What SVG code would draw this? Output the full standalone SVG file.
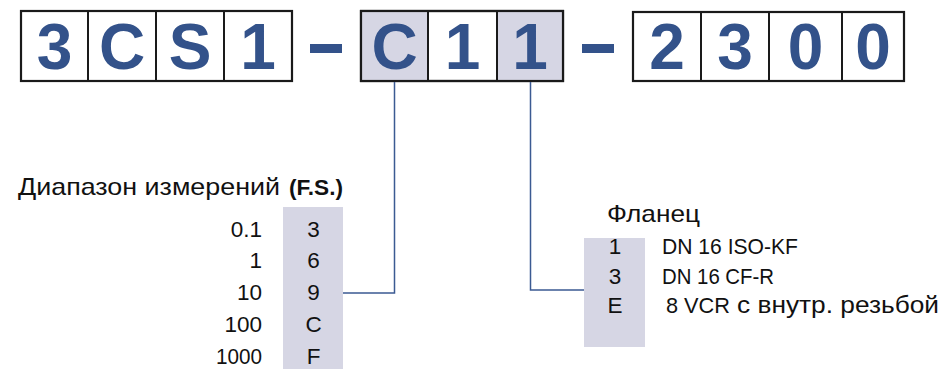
<svg xmlns="http://www.w3.org/2000/svg" width="948" height="369" viewBox="0 0 948 369">
  <style>
    .cell { fill: #ffffff; stroke: #1a1a1a; stroke-width: 2.2; }
    .sep { stroke: #1a1a1a; stroke-width: 2; }
    .sel { fill: #d6d6e4; }
    .code { font-family: "Liberation Sans", Arial, sans-serif; font-weight: bold; font-size: 64px; fill: #33528a; text-anchor: middle; }
    .dash { fill: #33528a; }
    .lbl { font-family: "Liberation Sans", Arial, sans-serif; font-size: 22.5px; fill: #111111; }
    .head { font-family: "Liberation Sans", Arial, sans-serif; font-size: 24px; fill: #111111; }
    .num { text-anchor: end; }
    .mid { text-anchor: middle; }
    .col { fill: #d6d6e4; }
    .wire { fill: none; stroke: #3b5a92; stroke-width: 1.5; }
  </style>

  <!-- model code: 3CS1 -->
  <g id="code-base">
    <rect class="cell" x="21" y="11" width="271" height="70"/>
    <line class="sep" x1="88" y1="11" x2="88" y2="81"/>
    <line class="sep" x1="156" y1="11" x2="156" y2="81"/>
    <line class="sep" x1="224" y1="11" x2="224" y2="81"/>
    <text class="code" x="54.5" y="69">3</text>
    <text class="code" x="122" y="69">C</text>
    <text class="code" x="190" y="69">S</text>
    <text class="code" x="258" y="69">1</text>
  </g>

  <rect class="dash" x="310" y="44" width="32" height="9"/>

  <!-- model code: C11 (range, flange) -->
  <g id="code-options">
    <rect class="cell" x="361" y="11" width="202" height="70"/>
    <rect class="sel" x="362" y="12" width="66" height="68"/>
    <rect class="sel" x="497" y="12" width="65" height="68"/>
    <line class="sep" x1="428" y1="11" x2="428" y2="81"/>
    <line class="sep" x1="497" y1="11" x2="497" y2="81"/>
    <rect x="361" y="11" width="202" height="70" fill="none" stroke="#1a1a1a" stroke-width="2.2"/>
    <text class="code" x="394.5" y="69">C</text>
    <text class="code" x="462.5" y="69">1</text>
    <text class="code" x="530" y="69">1</text>
  </g>

  <rect class="dash" x="582" y="44" width="32" height="9"/>

  <!-- model code: 2300 -->
  <g id="code-suffix">
    <rect class="cell" x="633" y="12" width="271" height="69"/>
    <line class="sep" x1="701" y1="12" x2="701" y2="81"/>
    <line class="sep" x1="769" y1="12" x2="769" y2="81"/>
    <line class="sep" x1="842" y1="12" x2="842" y2="81"/>
    <text class="code" x="667" y="69">2</text>
    <text class="code" x="735" y="69">3</text>
    <text class="code" x="805.5" y="69">0</text>
    <text class="code" x="873" y="69">0</text>
  </g>

  <!-- measurement range table -->
  <g id="range-table">
    <rect class="col" x="283" y="207" width="60" height="162"/>
    <text class="head" x="18" y="195" textLength="262" lengthAdjust="spacingAndGlyphs">Диапазон измерений</text>
    <text class="lbl" x="289" y="195" font-weight="bold" font-size="23" textLength="54" lengthAdjust="spacingAndGlyphs">(F.S.)</text>
    <text class="lbl num" x="262" y="236.5">0.1</text>
    <text class="lbl num" x="262" y="268">1</text>
    <text class="lbl num" x="262" y="300">10</text>
    <text class="lbl num" x="262" y="332">100</text>
    <text class="lbl num" x="262" y="364" textLength="46" lengthAdjust="spacingAndGlyphs">1000</text>
    <text class="lbl mid" x="313.5" y="236.5">3</text>
    <text class="lbl mid" x="313.5" y="268">6</text>
    <text class="lbl mid" x="313.5" y="300">9</text>
    <text class="lbl mid" x="313.5" y="332">C</text>
    <text class="lbl mid" x="313.5" y="364">F</text>
  </g>

  <!-- flange table -->
  <g id="flange-table">
    <rect class="col" x="584" y="238" width="61" height="109"/>
    <text class="head" x="607" y="222" textLength="93" lengthAdjust="spacingAndGlyphs">Фланец</text>
    <text class="lbl mid" x="615" y="254" font-size="23">1</text>
    <text class="lbl mid" x="615" y="283.5" font-size="23">3</text>
    <text class="lbl mid" x="615" y="313" font-size="23">E</text>
    <text class="lbl" x="662" y="254" font-size="23" textLength="136" lengthAdjust="spacingAndGlyphs">DN 16 ISO-KF</text>
    <text class="lbl" x="662" y="283.5" font-size="23" textLength="112" lengthAdjust="spacingAndGlyphs">DN 16 CF-R</text>
    <text class="lbl" x="666" y="313" font-size="23" textLength="64" lengthAdjust="spacingAndGlyphs">8 VCR</text>
    <text class="head" x="737" y="313" textLength="202" lengthAdjust="spacingAndGlyphs">с внутр. резьбой</text>
  </g>

  <!-- connectors -->
  <g id="connectors">
    <path class="wire" d="M394.5,82 V293 H343"/>
    <path class="wire" d="M530.5,82 V290 H584"/>
  </g>
</svg>
